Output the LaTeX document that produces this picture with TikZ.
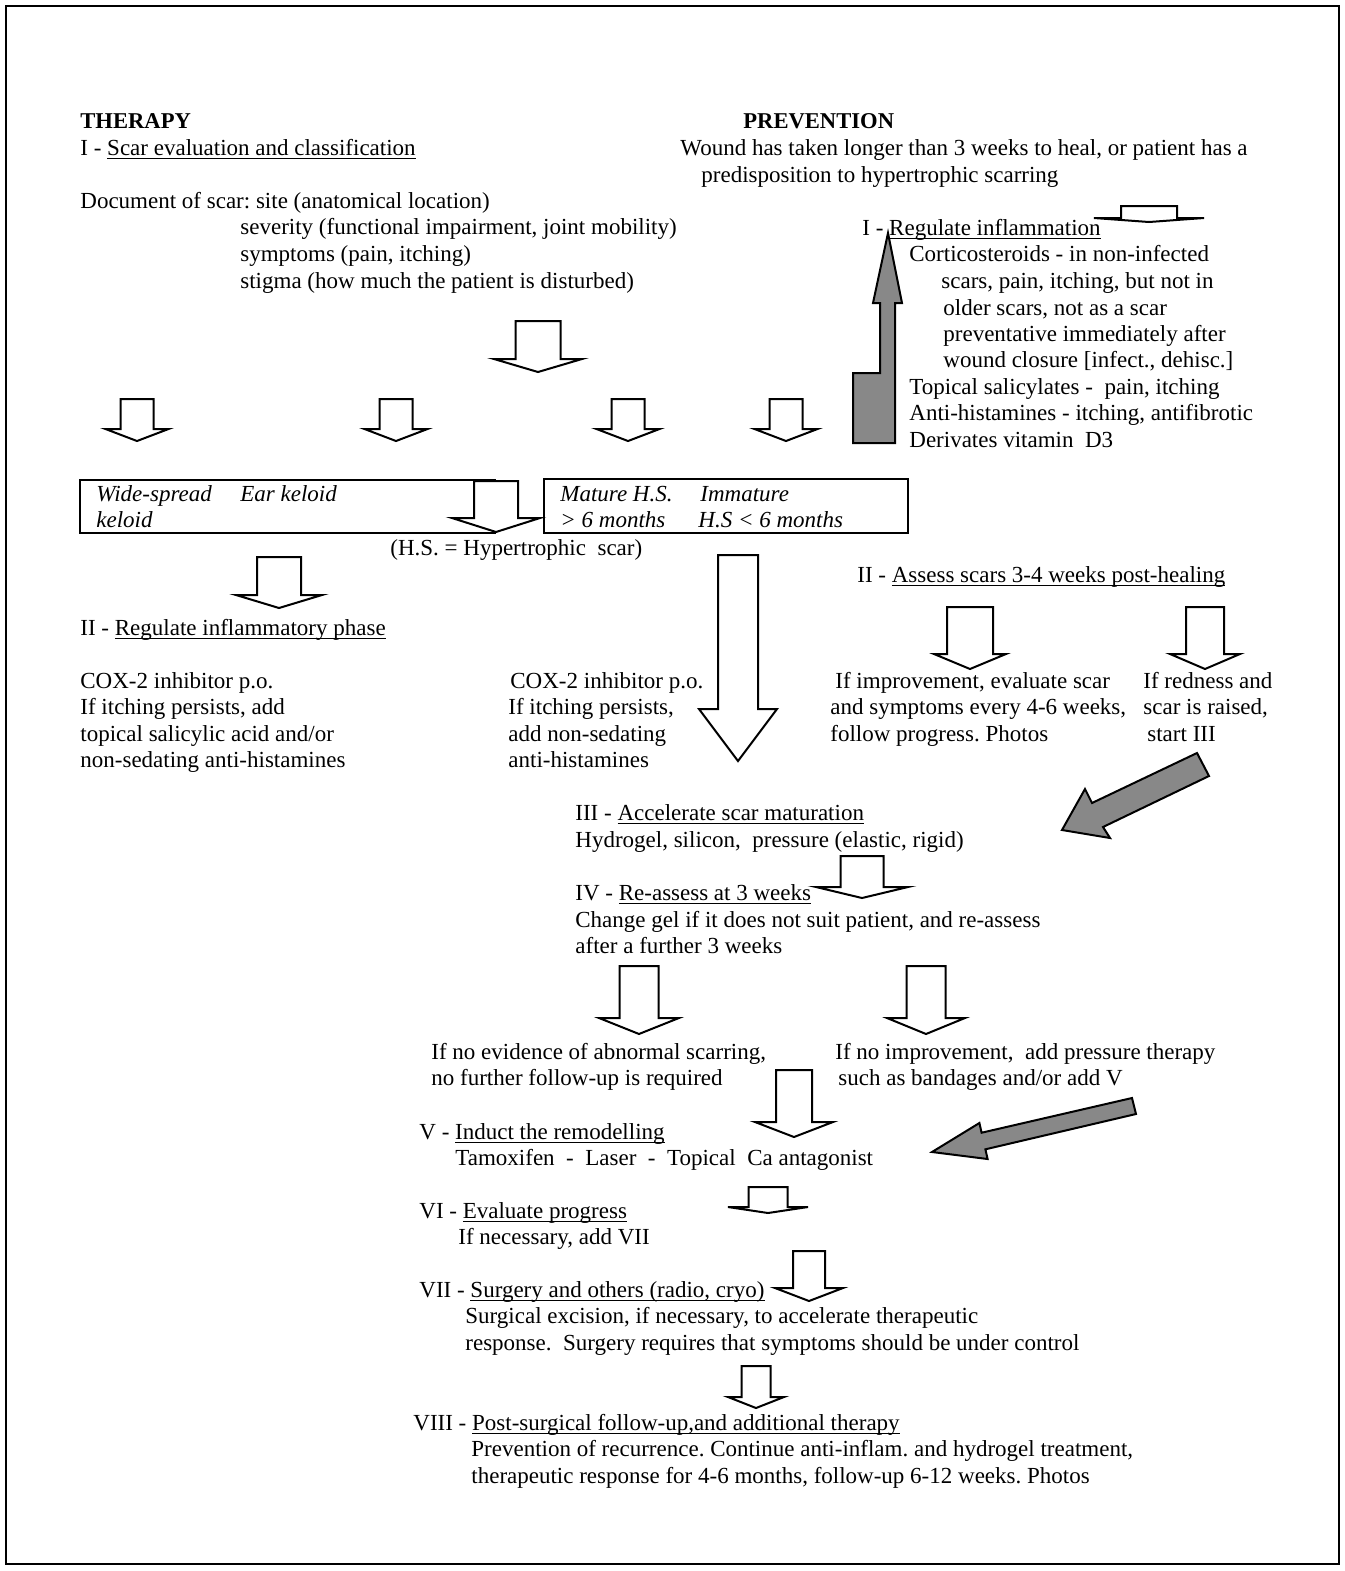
\documentclass[tikz,border=0pt]{standalone}
\usepackage{fontspec}
\setmainfont{Liberation Serif}
\definecolor{agray}{RGB}{136,136,136}
\newsavebox{\ulxbox}
\newcommand{\ulx}[1]{\sbox{\ulxbox}{#1}\rlap{\vrule height -1.5pt depth 2.1pt width \wd\ulxbox}\usebox{\ulxbox}}
\newcommand{\bdarrow}[6]{%
  \draw[barrow] (#1-#5,#2) -- (#1+#5,#2) -- (#1+#5,#3) -- (#1+#6,#3) -- (#1,#4) -- (#1-#6,#3) -- (#1-#5,#3) -- cycle;}
\frenchspacing
\begin{document}
\begin{tikzpicture}[x=0.5pt,y=-0.5pt,
  txt/.style={anchor=base west,inner sep=0pt,yshift=-0.5pt,font=\fontsize{11.5}{13.5}\selectfont},
  itx/.style={txt,font=\fontsize{11.5}{13.5}\selectfont\itshape},
  bld/.style={txt,font=\fontsize{11.3}{13.5}\selectfont\bfseries},
  barrow/.style={draw=black,fill=white,line width=1pt,line join=miter},
  garrow/.style={draw=black,fill=agray,line width=1pt,line join=miter},
  framebox/.style={draw=black,line width=0.7pt}]
\useasboundingbox (0,0) rectangle (1345,1571);
\draw[line width=1pt] (6,6) rectangle (1339,1564);

% boxes
\draw[framebox] (80,480) rectangle (495,533);
\draw[framebox] (544,479) rectangle (908,533);

% headings
\node[bld] (therapy) at (80,127) {THERAPY};
\node[bld] (prevention) at (743,127) {PREVENTION};
\node[txt] (t1) at (80,154) {I - \ulx{Scar evaluation and classification}};
\node[txt] (p1) at (680,154) {Wound has taken longer than 3 weeks to heal, or patient has a};
\node[txt] (p2) at (701,181) {predisposition to hypertrophic scarring};
\node[txt] (d1) at (80,207) {Document of scar: site (anatomical location)};
\node[txt] (d2) at (240,233) {severity (functional impairment, joint mobility)};
\node[txt] (d3) at (240,260) {symptoms (pain, itching)};
\node[txt] (d4) at (240,287) {stigma (how much the patient is disturbed)};

% prevention I
\node[txt] (r0) at (862,234) {I - \ulx{Regulate inflammation}};
\node[txt] (r1) at (909,260) {Corticosteroids - in non-infected};
\node[txt] (r2) at (941,287) {scars, pain, itching, but not in};
\node[txt] (r3) at (943,314) {older scars, not as a scar};
\node[txt] (r4) at (943,340) {preventative immediately after};
\node[txt] (r5) at (943,366) {wound closure [infect., dehisc.]};
\node[txt] (r6) at (909,393) {Topical salicylates -\ \ pain, itching};
\node[txt] (r7) at (909,419) {Anti-histamines - itching, antifibrotic};
\node[txt] (r8) at (909,446) {Derivates vitamin\ \ D3};

% classification boxes
\node[itx] (b1) at (96,500) {Wide-spread};
\node[itx] (b2) at (96,526) {keloid};
\node[itx] (b3) at (240,500) {Ear keloid};
\node[itx] (c1) at (560,500) {Mature H.S.};
\node[itx] (c2) at (560,526) {> 6 months};
\node[itx] (c3) at (700,500) {Immature};
\node[itx] (c4) at (698,526) {H.S < 6 months};
\node[txt] (hs) at (390,554) {(H.S. = Hypertrophic\ \ scar)};

% therapy II
\node[txt] (l0) at (80,634) {II - \ulx{Regulate inflammatory phase}};
\node[txt] (l1) at (80,687) {COX-2 inhibitor p.o.};
\node[txt] (l2) at (80,713) {If itching persists, add};
\node[txt] (l3) at (80,740) {topical salicylic acid and/or};
\node[txt] (l4) at (80,766) {non-sedating anti-histamines};
\node[txt] (m1) at (510,687) {COX-2 inhibitor p.o.};
\node[txt] (m2) at (508,713) {If itching persists,};
\node[txt] (m3) at (508,740) {add non-sedating};
\node[txt] (m4) at (508,766) {anti-histamines};

% prevention II
\node[txt] (s0) at (857,581) {II - \ulx{Assess scars 3-4 weeks post-healing}};
\node[txt] (s1) at (835,687) {If improvement, evaluate scar};
\node[txt] (s2) at (830,713) {and symptoms every 4-6 weeks,};
\node[txt] (s3) at (830,740) {follow progress. Photos};
\node[txt] (s4) at (1143,687) {If redness and};
\node[txt] (s5) at (1143,713) {scar is raised,};
\node[txt] (s6) at (1147,740) {start III};

% III / IV
\node[txt] (e0) at (575,819) {III - \ulx{Accelerate scar maturation}};
\node[txt] (e1) at (575,846) {Hydrogel, silicon,\ \ pressure (elastic, rigid)};
\node[txt] (e2) at (575,899) {IV - \ulx{Re-assess at 3 weeks}};
\node[txt] (e3) at (575,926) {Change gel if it does not suit patient, and re-assess};
\node[txt] (e4) at (575,952) {after a further 3 weeks};
\node[txt] (n1) at (431,1058) {If no evidence of abnormal scarring,};
\node[txt] (n2) at (431,1084) {no further follow-up is required};
\node[txt] (n3) at (835,1058) {If no improvement,\ \ add pressure therapy};
\node[txt] (n4) at (838,1084) {such as bandages and/or add V};

% V - VIII
\node[txt] (v0) at (419,1138) {V - \ulx{Induct the remodelling}};
\node[txt] (v1) at (455,1164) {Tamoxifen\ \ -\ \ Laser\ \ -\ \ Topical\ \ Ca antagonist};
\node[txt] (v2) at (419,1217) {VI - \ulx{Evaluate progress}};
\node[txt] (v3) at (458,1243) {If necessary, add VII};
\node[txt] (v4) at (419,1296) {VII - \ulx{Surgery and others (radio, cryo)}};
\node[txt] (v5) at (465,1322) {Surgical excision, if necessary, to accelerate therapeutic};
\node[txt] (v6) at (465,1349) {response.\ \ Surgery requires that symptoms should be under control};
\node[txt] (w0) at (413,1429) {VIII - \ulx{Post-surgical follow-up,and additional therapy}};
\node[txt] (w1) at (471,1455) {Prevention of recurrence. Continue anti-inflam. and hydrogel treatment,};
\node[txt] (w2) at (471,1482) {therapeutic response for 4-6 months, follow-up 6-12 weeks. Photos};

% white block arrows
\bdarrow{538}{321}{359}{372}{22.5}{44}
\bdarrow{137}{399}{429}{441}{16.5}{31.5}
\bdarrow{396}{399}{429}{441}{16.5}{31.5}
\bdarrow{628}{399}{429}{441}{16.5}{31.5}
\bdarrow{786}{399}{429}{441}{16.5}{31.5}
\bdarrow{496}{481}{518}{532}{22}{44}
\bdarrow{279}{557}{595}{608}{22}{43}
\bdarrow{738}{555}{709}{761}{20}{39}
\bdarrow{970}{607}{654}{669}{23}{36}
\bdarrow{1205}{607}{654}{669}{19}{35}
\bdarrow{862}{856}{887}{898}{21.5}{46}
\bdarrow{639}{966}{1018}{1034}{19.5}{40}
\bdarrow{926}{966}{1018}{1034}{19.5}{39}
\bdarrow{794}{1070}{1122}{1137}{18}{39}
\bdarrow{768}{1187}{1207}{1213}{19.5}{40}
\bdarrow{809}{1251}{1288}{1301}{16}{34}
\bdarrow{756}{1366}{1397}{1408}{14.5}{28}
\bdarrow{1149}{206}{218}{222}{28}{55}

% gray arrows
\draw[garrow] (853,443) -- (853,373) -- (880,373) -- (880,303) -- (873,303) -- (888,233) -- (902,303) -- (895,303) -- (895,443) -- cycle;
\draw[garrow] (1197,753) -- (1209,776) -- (1103,827) -- (1110,838) -- (1062,830) -- (1085,789) -- (1092,803) -- cycle;
\draw[garrow] (1132,1098) -- (1136,1114) -- (985.4,1149.3) -- (987.6,1159) -- (932,1152) -- (979.4,1123) -- (981.6,1132.7) -- cycle;
\end{tikzpicture}
\end{document}
